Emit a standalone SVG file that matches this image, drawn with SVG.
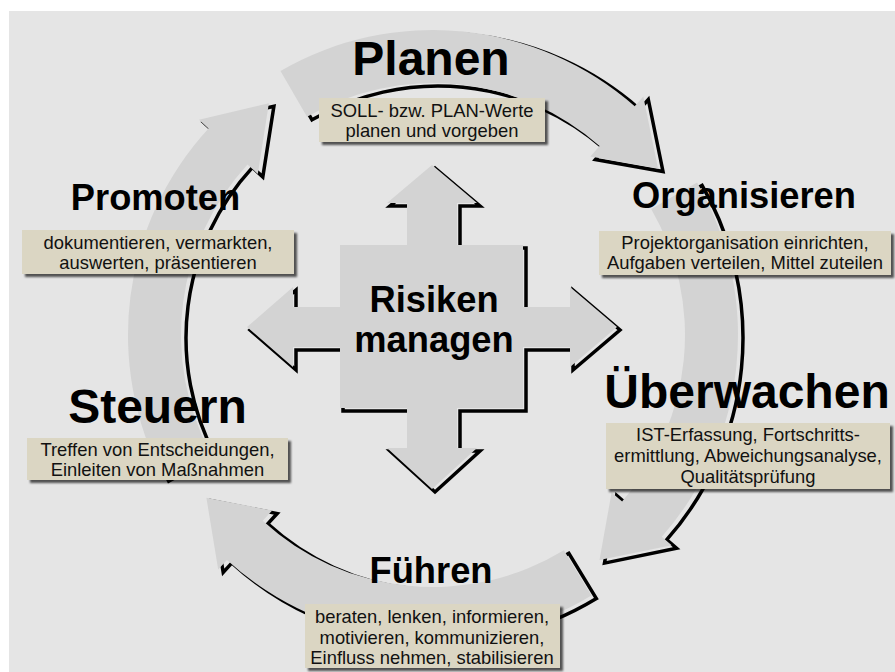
<svg xmlns="http://www.w3.org/2000/svg" xmlns:xlink="http://www.w3.org/1999/xlink" width="895" height="672" viewBox="0 0 895 672">
<style>
.arr{fill:#d3d3d3;stroke:none}
.sh{fill:none;stroke:#000;stroke-width:3.5;stroke-linejoin:miter}
.box{fill:#dbd6c3}
.h{font-family:"Liberation Sans",Arial,sans-serif;font-weight:bold;fill:#000;text-anchor:middle}
.big{font-size:48px}
.mid{font-size:36.3px}
.t{font-family:"Liberation Sans",Arial,sans-serif;font-size:18.4px;fill:#111;text-anchor:middle}
</style>
<defs>
<filter id="bs" x="-10%" y="-20%" width="125%" height="150%">
<feGaussianBlur in="SourceAlpha" stdDeviation="1.3"/>
<feOffset dx="3" dy="3" result="o"/>
<feComponentTransfer><feFuncA type="linear" slope="0.65"/></feComponentTransfer>
<feMerge><feMergeNode/><feMergeNode in="SourceGraphic"/></feMerge>
</filter>
<path id="pA" d="M280.5,70.9 A305,305 0 0 1 634.7,106.2 L643.3,96.5 L658,168.5 L590.4,156.5 L599.6,146 A252,252 0 0 0 307,116.8 Z"/>
<path id="pB" d="M697.1,182.5 A305,305 0 0 1 661.8,536.7 L671.6,545.3 L599.5,560.1 L611.6,492.4 L622.1,501.6 A252,252 0 0 0 651.2,209 Z"/>
<path id="pC1" d="M591.4,595.6 A305,305 0 0 1 226.9,559.9 L218.2,569.5 L206.4,497.8 L272.2,510.5 L262.7,520.8 A252,252 0 0 0 563.9,550.3 Z"/>
<path id="pC2" d="M163.7,478.2 A305,305 0 0 1 208.5,128.5 L199,119.7 L268.9,103.2 L257.8,173.9 L247.5,164.4 A252,252 0 0 0 210.5,453.3 Z"/>
<path id="pX" d="M432,165 L477,203 L457,203 L457,245 L523,245 L523,307 L570,307 L570,287 L617,327 L570,367 L570,347 L523,347 L523,408 L457,408 L457,448 L477,448 L432,489 L387,448 L407,448 L407,408 L340,408 L340,347 L293,347 L293,367 L247,327 L293,287 L293,307 L340,307 L340,245 L407,245 L407,203 L387,203 Z"/>
</defs>
<rect x="0" y="0" width="895" height="672" fill="#ffffff"/>
<rect x="9" y="11" width="886" height="661" fill="#e5e5e5"/>
<g id="connectors">
<use xlink:href="#pA" class="sh" transform="translate(5,3)"/>
<use xlink:href="#pB" class="sh" transform="translate(5,3)"/>
<use xlink:href="#pC1" class="sh" transform="translate(5,3)"/>
<use xlink:href="#pC2" class="sh" transform="translate(5,3)"/>
<use xlink:href="#pA" class="arr"/>
<use xlink:href="#pB" class="arr"/>
<use xlink:href="#pC1" class="arr"/>
<use xlink:href="#pC2" class="arr"/>
</g>
<g id="risiken">
<use xlink:href="#pX" class="sh" transform="translate(3,3)"/>
<use xlink:href="#pX" class="arr"/>
<text class="h mid" x="434" y="312">Risiken</text>
<text class="h mid" x="434" y="352">managen</text>
</g>
<g id="planen">
<text class="h big" x="431" y="75">Planen</text>
<rect class="box" x="319" y="98" width="226" height="44" filter="url(#bs)"/>
<text class="t" x="432" y="117">SOLL- bzw. PLAN-Werte</text>
<text class="t" x="432" y="137">planen und vorgeben</text>
</g>
<g id="organisieren">
<text class="h mid" x="744" y="208">Organisieren</text>
<rect class="box" x="599" y="231" width="292" height="44" filter="url(#bs)"/>
<text class="t" x="745" y="249">Projektorganisation einrichten,</text>
<text class="t" x="745" y="269">Aufgaben verteilen, Mittel zuteilen</text>
</g>
<g id="ueberwachen">
<text class="h big" x="747" y="408">Überwachen</text>
<rect class="box" x="606" y="423" width="284" height="66" filter="url(#bs)"/>
<text class="t" x="748" y="441">IST-Erfassung, Fortschritts-</text>
<text class="t" x="748" y="462">ermittlung, Abweichungsanalyse,</text>
<text class="t" x="748" y="483">Qualitätsprüfung</text>
</g>
<g id="fuehren">
<text class="h mid" x="431" y="583">Führen</text>
<rect class="box" x="305" y="604" width="255" height="64" filter="url(#bs)"/>
<text class="t" x="432" y="623">beraten, lenken, informieren,</text>
<text class="t" x="432" y="644">motivieren, kommunizieren,</text>
<text class="t" x="432" y="664">Einfluss nehmen, stabilisieren</text>
</g>
<g id="steuern">
<text class="h big" x="157.5" y="423">Steuern</text>
<rect class="box" x="27" y="438" width="261" height="42" filter="url(#bs)"/>
<text class="t" x="157.5" y="456">Treffen von Entscheidungen,</text>
<text class="t" x="157.5" y="476">Einleiten von Maßnahmen</text>
</g>
<g id="promoten">
<text class="h mid" x="155.5" y="210">Promoten</text>
<rect class="box" x="22" y="230" width="272" height="44" filter="url(#bs)"/>
<text class="t" x="158" y="249">dokumentieren, vermarkten,</text>
<text class="t" x="158" y="269">auswerten, präsentieren</text>
</g>
</svg>
